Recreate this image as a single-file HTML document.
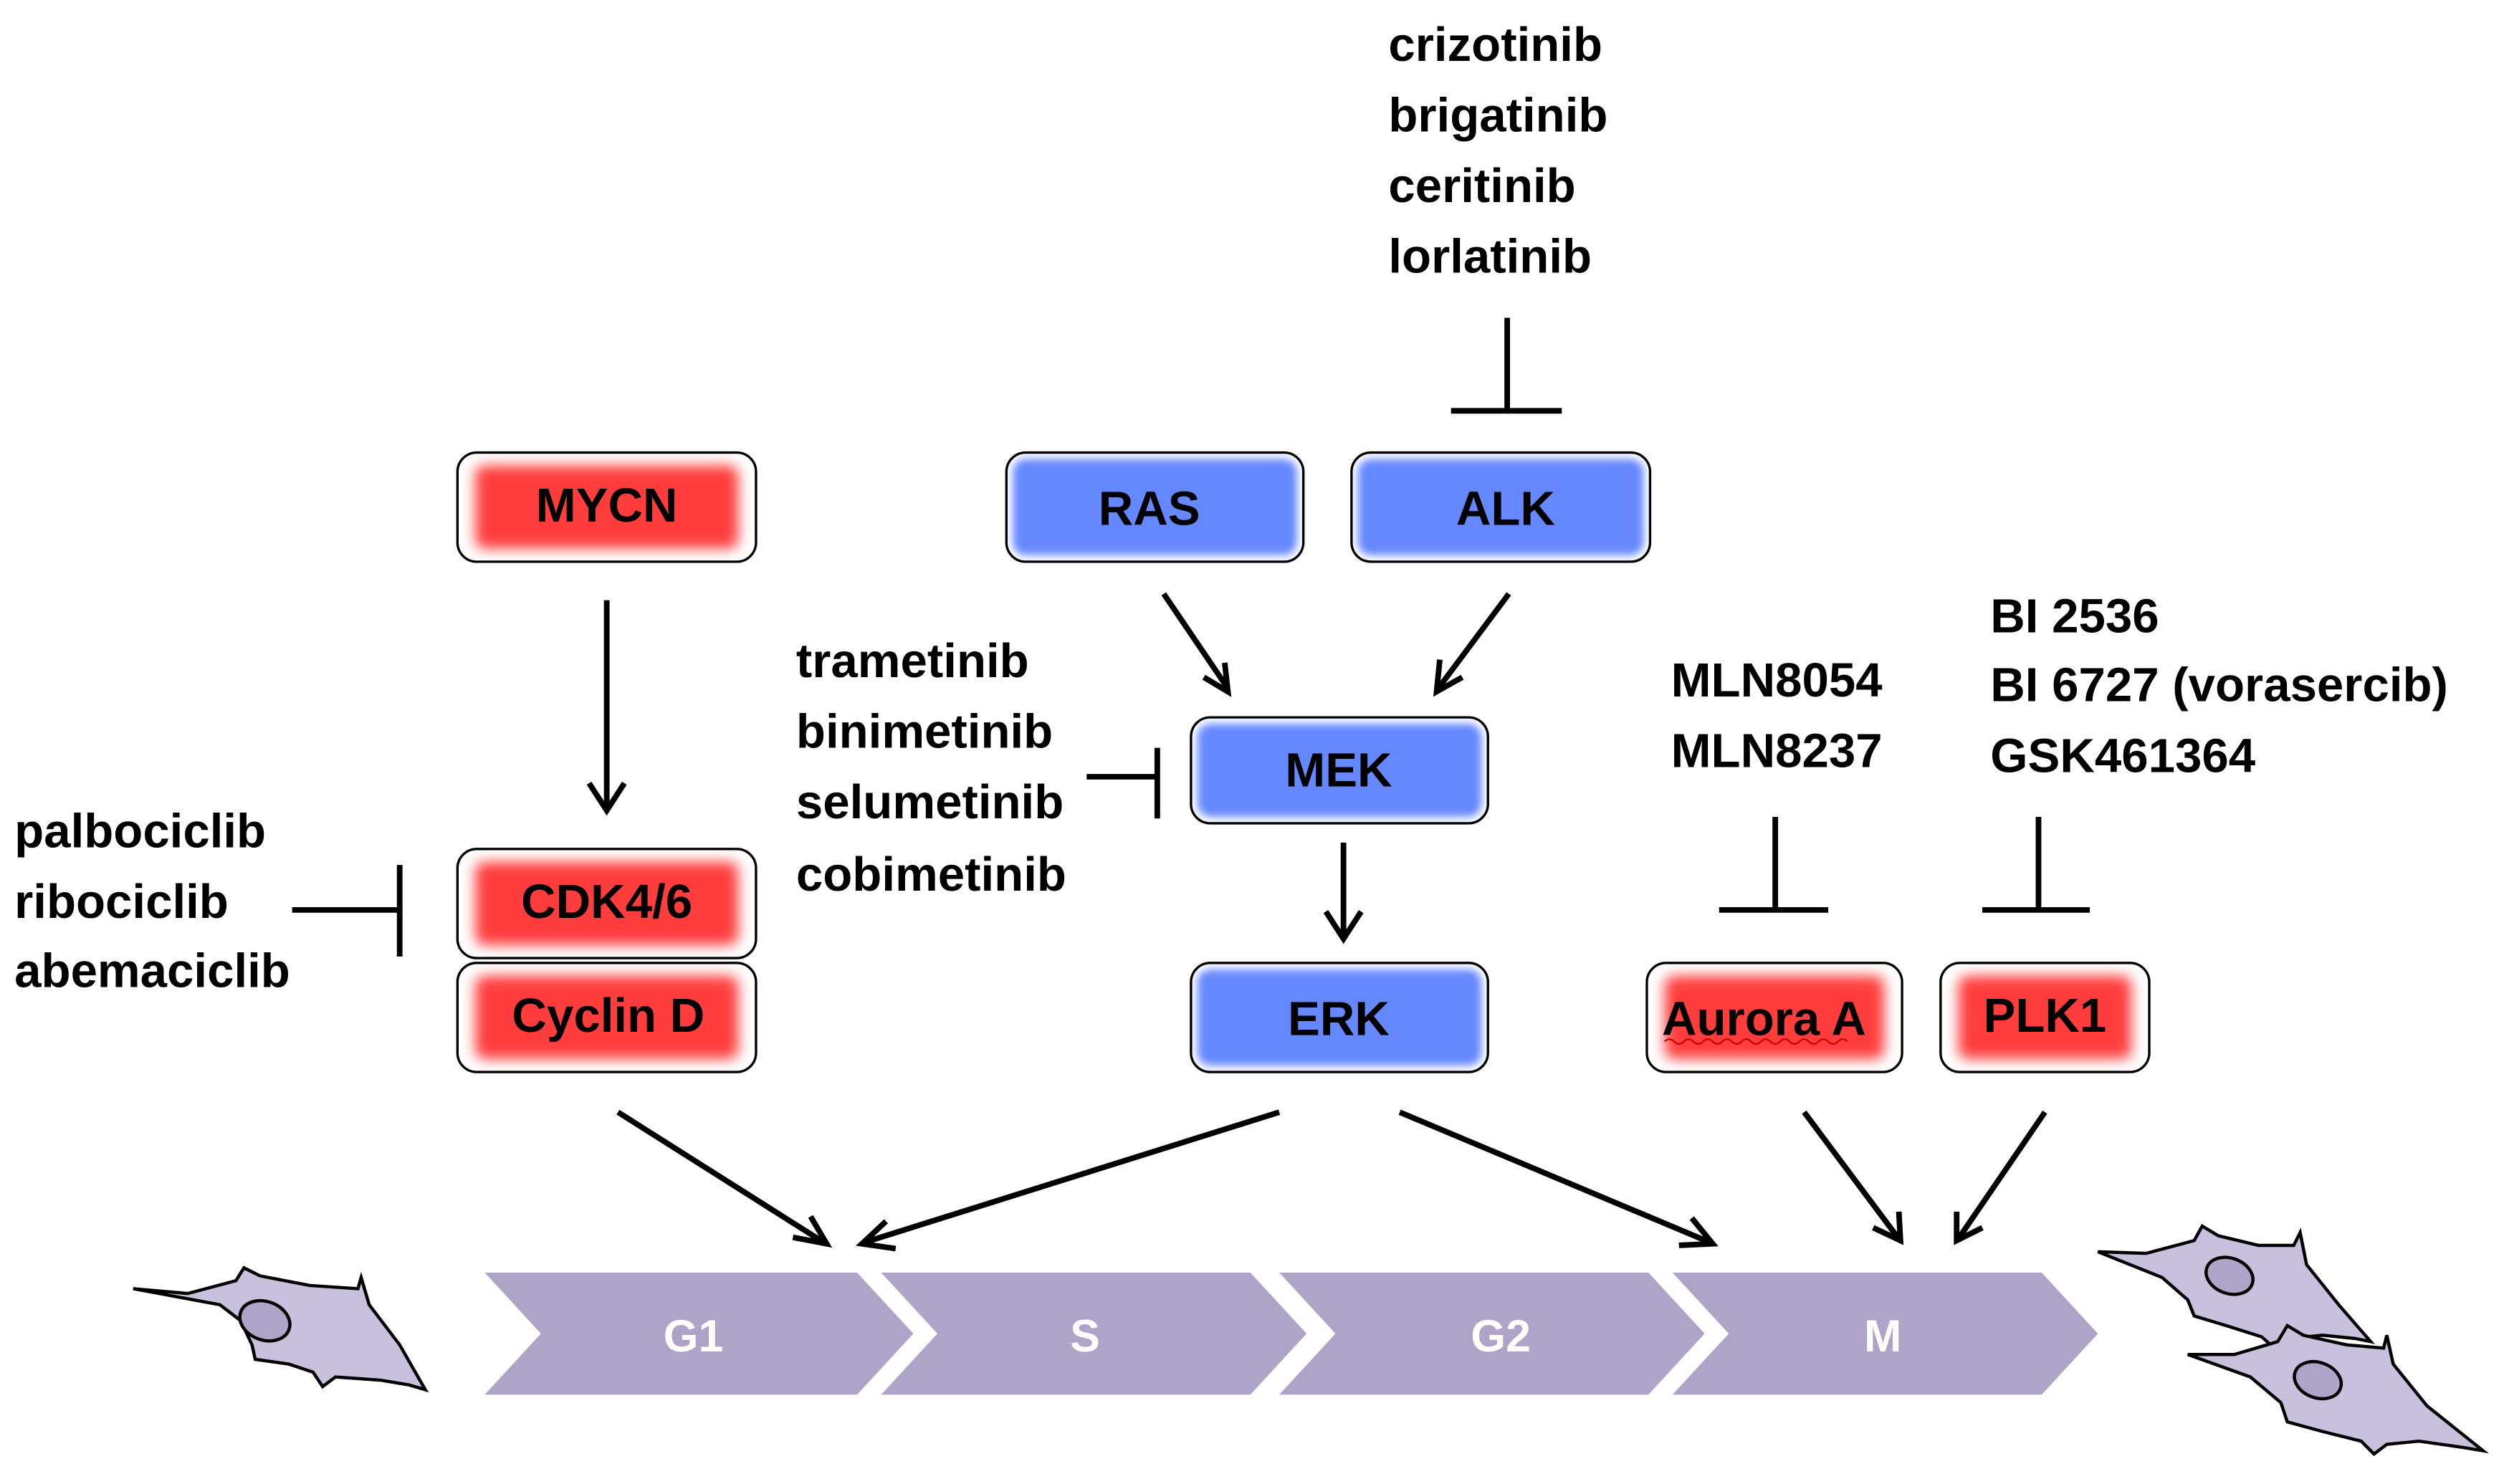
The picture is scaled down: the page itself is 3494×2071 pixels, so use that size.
<!DOCTYPE html>
<html><head><meta charset="utf-8"><style>
html,body{margin:0;padding:0;background:#fff;}
svg{display:block;}
text{font-family:"Liberation Sans",Arial,sans-serif;font-weight:bold;font-size:30px;fill:#000;}
text.w{fill:#fff;font-size:28px;}
</style></head><body>
<svg width="3494" height="2071" viewBox="0 0 1560 924.7" preserveAspectRatio="none" xmlns="http://www.w3.org/2000/svg">
<defs>
<filter id="g" x="-20%" y="-30%" width="140%" height="160%"><feGaussianBlur stdDeviation="4"/></filter>
<filter id="gb" x="-20%" y="-30%" width="140%" height="160%"><feGaussianBlur stdDeviation="2.5"/></filter>
</defs>
<g transform="translate(-3,-2)">
<!-- red boxes -->
<g>
<rect x="288" y="284" width="186" height="68" rx="12" fill="#fff"/>
<rect x="299" y="292" width="164" height="52" rx="6" fill="#ff3c3c" filter="url(#g)"/>
<rect x="288" y="284" width="186" height="68" rx="12" fill="none" stroke="#000" stroke-width="1.5"/>

<rect x="288" y="531" width="186" height="68" rx="12" fill="#fff"/>
<rect x="299" y="539" width="164" height="52" rx="6" fill="#ff3c3c" filter="url(#g)"/>
<rect x="288" y="531" width="186" height="68" rx="12" fill="none" stroke="#000" stroke-width="1.5"/>

<rect x="288" y="602" width="186" height="68" rx="12" fill="#fff"/>
<rect x="299" y="610" width="164" height="52" rx="6" fill="#ff3c3c" filter="url(#g)"/>
<rect x="288" y="602" width="186" height="68" rx="12" fill="none" stroke="#000" stroke-width="1.5"/>

<rect x="1029" y="602" width="159" height="68" rx="12" fill="#fff"/>
<rect x="1040" y="610" width="137" height="52" rx="6" fill="#ff3c3c" filter="url(#g)"/>
<rect x="1029" y="602" width="159" height="68" rx="12" fill="none" stroke="#000" stroke-width="1.5"/>

<rect x="1212" y="602" width="130" height="68" rx="12" fill="#fff"/>
<rect x="1223" y="610" width="108" height="52" rx="6" fill="#ff3c3c" filter="url(#g)"/>
<rect x="1212" y="602" width="130" height="68" rx="12" fill="none" stroke="#000" stroke-width="1.5"/>
</g>

<!-- blue boxes -->
<g>
<rect x="630" y="284" width="185" height="68" rx="12" fill="#fff"/>
<rect x="634" y="288" width="177" height="60" rx="8" fill="#6688ff" filter="url(#gb)"/>
<rect x="630" y="284" width="185" height="68" rx="12" fill="none" stroke="#000" stroke-width="1.5"/>

<rect x="845" y="284" width="186" height="68" rx="12" fill="#fff"/>
<rect x="849" y="288" width="178" height="60" rx="8" fill="#6688ff" filter="url(#gb)"/>
<rect x="845" y="284" width="186" height="68" rx="12" fill="none" stroke="#000" stroke-width="1.5"/>

<rect x="745" y="449" width="185" height="66" rx="12" fill="#fff"/>
<rect x="749" y="453" width="177" height="58" rx="8" fill="#6688ff" filter="url(#gb)"/>
<rect x="745" y="449" width="185" height="66" rx="12" fill="none" stroke="#000" stroke-width="1.5"/>

<rect x="745" y="602" width="185" height="68" rx="12" fill="#fff"/>
<rect x="749" y="606" width="177" height="60" rx="8" fill="#6688ff" filter="url(#gb)"/>
<rect x="745" y="602" width="185" height="68" rx="12" fill="none" stroke="#000" stroke-width="1.5"/>
</g>

<!-- box labels -->
<g text-anchor="middle" style="font-size:28px">
<text x="381" y="327">MYCN</text>
<text x="719" y="329">RAS</text>
<text x="941" y="329">ALK</text>
<text x="837" y="492">MEK</text>
<text x="837" y="647">ERK</text>
<text x="381" y="574">CDK4/6</text>
<text x="382" y="645">Cyclin D</text>
<text x="1102" y="647">Aurora A</text>
<text x="1277" y="645">PLK1</text>
</g>
<path d="M1040 651 q3 -3 6 0 t6 0 t6 0 t6 0 t6 0 t6 0 t6 0 t6 0 t6 0 t6 0 t6 0 t6 0 t6 0 t6 0 t6 0 t6 0 t6 0 t6 0 t6 0" stroke="#c00" stroke-width="1" fill="none"/>

<!-- drug labels -->
<g>
<text x="868" y="40">crizotinib</text>
<text x="868" y="84">brigatinib</text>
<text x="868" y="128">ceritinib</text>
<text x="868" y="172">lorlatinib</text>
<text x="499" y="424">trametinib</text>
<text x="499" y="468">binimetinib</text>
<text x="499" y="512">selumetinib</text>
<text x="499" y="557">cobimetinib</text>
<text x="12" y="530">palbociclib</text>
<text x="12" y="574">ribociclib</text>
<text x="12" y="617">abemaciclib</text>
<text x="1044" y="436">MLN8054</text>
<text x="1044" y="480">MLN8237</text>
<text x="1243" y="396">BI 2536</text>
<text x="1243" y="439">BI 6727 (vorasercib)</text>
<text x="1243" y="483">GSK461364</text>
</g>

<!-- inhibition T bars -->
<g stroke="#000" stroke-width="3.5" fill="none">
<path d="M942 200 V258 M907 258 H976"/>
<path d="M680 486 H724 M724 468 V512"/>
<path d="M185 569 H252 M252 541 V598"/>
<path d="M1109 511 V569 M1074 569 H1142"/>
<path d="M1273 511 V569 M1238 569 H1305"/>
</g>

<!-- arrows -->
<g stroke="#000" stroke-width="3.5" fill="none">
<path d="M381 376 V506 M370 490 L381 507 L392 490"/>
<path d="M840 527 V585 M829 570 L840 587 L851 570"/>
<path d="M728 372 L768 431 M753 424 L768 433 L766 415"/>
<path d="M943 372 L899 431 M900 413 L898 433 L914 424"/>
<path d="M388 695 L516 776 M497 773 L518 777 L508 760"/>
<path d="M800 695 L542 776 M555 763 L540 777 L561 780"/>
<path d="M875 695 L1068 776 M1049 778 L1070 777 L1057 761"/>
<path d="M1127 695 L1186 774 M1170 767 L1187 775 L1186 757"/>
<path d="M1277 695 L1223 774 M1222 757 L1222 775 L1238 767"/>
</g>

<!-- chevrons -->
<g fill="#b0a3c8">
<polygon points="305,795 537,795 572,833 537,871 305,871 340,833"/>
<polygon points="552,795 782,795 817,833 782,871 552,871 587,833"/>
<polygon points="800,795 1030,795 1065,833 1030,871 800,871 835,833"/>
<polygon points="1045,795 1275,795 1310,833 1275,871 1045,871 1080,833"/>
</g>
<g text-anchor="middle">
<text class="w" x="435" y="844">G1</text>
<text class="w" x="679" y="844">S</text>
<text class="w" x="938" y="844">G2</text>
<text class="w" x="1176" y="844">M</text>
</g>

<!-- cells -->
<g fill="#c9c0dd" stroke="#000" stroke-width="2">
<path d="M86 805 L120 808 L150 800 L155 792 L165 797 L196 803 L226 805 L228 798 L233 815 L252 840 L268 868 L258 865 L240 862 L212 860 L204 866 L198 857 L183 852 L162 849 L160 840 L153 825 L140 815 Z"/>
<ellipse cx="168" cy="825" rx="16" ry="12" transform="rotate(20 168 825)" fill="#b0a3c8"/>
<path d="M1310 782 L1340 783 L1370 775 L1375 766 L1385 772 L1410 778 L1432 778 L1436 770 L1440 790 L1460 815 L1480 838 L1470 836 L1450 834 L1430 836 L1420 842 L1412 835 L1390 828 L1370 822 L1366 812 L1350 798 Z"/>
<ellipse cx="1392" cy="797" rx="15" ry="11" transform="rotate(20 1392 797)" fill="#b0a3c8"/>
<path d="M1366 846 L1395 846 L1422 838 L1428 828 L1438 834 L1465 840 L1488 842 L1490 834 L1494 852 L1515 878 L1550 906 L1538 904 L1510 900 L1490 902 L1482 908 L1474 900 L1450 894 L1428 888 L1424 876 L1405 860 Z"/>
<ellipse cx="1447" cy="862" rx="15" ry="11" transform="rotate(20 1447 862)" fill="#b0a3c8"/>
</g>
</g>
</svg>
</body></html>
